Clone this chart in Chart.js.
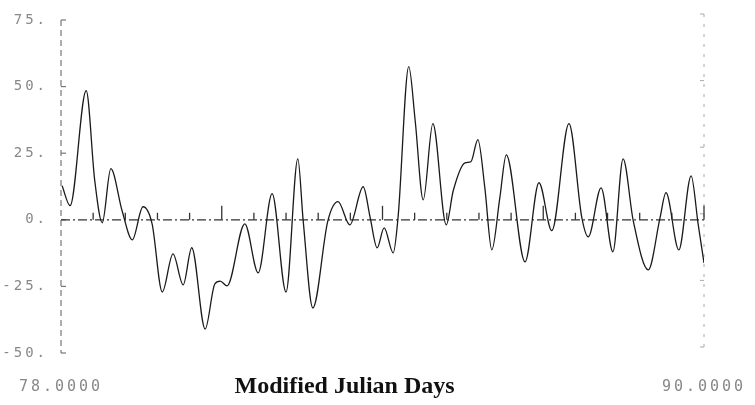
<!DOCTYPE html>
<html>
<head>
<meta charset="utf-8">
<script src="https://cdn.jsdelivr.net/npm/chart.js@4.4.1/dist/chart.umd.min.js"></script>
<style>
  html, body { margin: 0; padding: 0; background: #fff; }
  canvas { display: block; }
</style>
</head>
<body>
<canvas id="chart" width="755" height="405"></canvas>
<script>
// Time axis (Modified Julian Days) and residual values
const days = [
    78.02, 78.17, 78.47, 78.63, 78.77, 78.93, 79.14, 79.33, 79.53, 79.70,
    79.89, 80.09, 80.28, 80.44, 80.69, 80.87, 80.97, 81.10, 81.43, 81.68,
    81.94, 82.20, 82.42, 82.52, 82.70, 82.98, 83.17, 83.39, 83.64, 83.77,
    83.90, 84.03, 84.20, 84.29, 84.49, 84.61, 84.76, 84.94, 85.19, 85.32,
    85.54, 85.65, 85.78, 85.91, 86.04, 86.19, 86.31, 86.66, 86.92, 87.16,
    87.48, 87.72, 87.84, 88.08, 88.30, 88.49, 88.68, 88.96, 89.18, 89.29,
    89.53, 89.76, 89.89, 90.00
];
const values = [
    12.8, 5.3, 48.5, 14.7, -1.1, 19.2, 3.4, -7.5, 4.9, -1.5,
    -27.1, -12.8, -24.4, -10.5, -41.0, -24.1, -23.0, -24.8, -1.5, -19.9,
    9.8, -27.1, 22.9, -0.4, -33.1, -0.4, 6.8, -1.9, 12.4, 0.8,
    -10.5, -3.0, -12.4, 0.8, 57.5, 37.2, 7.5, 36.1, -1.9, 10.9,
    21.4, 21.8, 30.1, 12.0, -11.3, 8.3, 24.4, -15.8, 13.9, -4.1,
    36.1, 0.8, -6.4, 12.0, -12.0, 22.9, -0.4, -18.8, 0.8, 10.2,
    -11.3, 16.5, -1.5, -16.2
];

// Tick labels
const yTicks = [75, 50, 25, 0, -25, -50];
const xTicks = [78, 90];
// Marks along the zero line
const zeroTicks = [
    78.6, 79.2, 79.8, 80.4, 81.0, 81.6, 82.2, 82.8, 83.4, 84.0,
    84.6, 85.2, 85.8, 86.4, 87.0, 87.6, 88.2, 88.8, 89.4, 90.0
];
const xTitle = 'Modified Julian Days';

const monoFont = { family: '"DejaVu Sans Mono", monospace', size: 14 };

// Axis frames, zero line and its marks, plus the bottom title
const framePlugin = {
    id: 'frame',
    beforeDraw: (chart) => {
        chart.ctx.letterSpacing = '3px';
    },
    beforeDatasetsDraw: (chart) => {
        const { ctx, scales: { x, y } } = chart;
        const top = y.getPixelForValue(75);
        const bottom = y.getPixelForValue(-50);
        const left = x.getPixelForValue(78);
        const right = x.getPixelForValue(90);
        ctx.save();

        // left axis
        ctx.strokeStyle = '#777';
        ctx.lineWidth = 1.2;
        ctx.setLineDash([6, 4]);
        ctx.beginPath();
        ctx.moveTo(left, top);
        ctx.lineTo(left, bottom);
        ctx.stroke();
        ctx.setLineDash([]);
        yTicks.forEach(v => {
            const py = y.getPixelForValue(v);
            ctx.beginPath();
            ctx.moveTo(left, py);
            ctx.lineTo(left + 5, py);
            ctx.stroke();
        });

        // right axis (faint)
        ctx.strokeStyle = '#aaa';
        ctx.lineWidth = 1;
        ctx.setLineDash([3, 7]);
        ctx.beginPath();
        ctx.moveTo(right, top - 6);
        ctx.lineTo(right, bottom);
        ctx.stroke();
        ctx.setLineDash([]);
        yTicks.forEach(v => {
            const py = y.getPixelForValue(v) - 6;
            ctx.beginPath();
            ctx.moveTo(right, py);
            ctx.lineTo(right - 4, py);
            ctx.stroke();
        });

        // zero line
        const y0 = y.getPixelForValue(0);
        ctx.strokeStyle = '#333';
        ctx.lineWidth = 1.3;
        ctx.setLineDash([9, 3, 2, 3]);
        ctx.beginPath();
        ctx.moveTo(left, y0);
        ctx.lineTo(right, y0);
        ctx.stroke();
        ctx.setLineDash([]);
        zeroTicks.forEach(d => {
            const px = x.getPixelForValue(d);
            const h = (Math.round(d * 10) % 30 === 0) ? 14 : 7;
            ctx.beginPath();
            ctx.moveTo(px, y0);
            ctx.lineTo(px, y0 - h);
            ctx.stroke();
        });
        ctx.restore();
    },
    afterDraw: (chart) => {
        const { ctx, chartArea } = chart;
        ctx.save();
        ctx.letterSpacing = '0px';
        ctx.font = 'bold 24px "Liberation Serif", serif';
        ctx.fillStyle = '#111';
        ctx.textAlign = 'center';
        ctx.textBaseline = 'alphabetic';
        ctx.fillText(xTitle, chartArea.left + chartArea.width * 0.441, 393);
        ctx.restore();
    }
};

new Chart(document.getElementById('chart'), {
    type: 'line',
    data: {
        datasets: [{
            data: days.map((d, i) => ({ x: d, y: values[i] })),
            borderColor: '#1a1a1a',
            borderWidth: 1.3,
            pointRadius: 0,
            fill: false,
            cubicInterpolationMode: 'monotone'
        }]
    },
    options: {
        responsive: false,
        animation: false,
        layout: { padding: { top: 20, right: 51, left: 0, bottom: 0 } },
        scales: {
            x: {
                type: 'linear',
                min: 78,
                max: 90,
                grid: { display: false },
                border: { display: false },
                afterBuildTicks: (s) => { s.ticks = xTicks.map(v => ({ value: v })); },
                afterFit: (s) => { s.height = 52; },
                ticks: {
                    padding: 17,
                    maxRotation: 0,
                    color: '#888',
                    font: { family: monoFont.family, size: 15 },
                    callback: (v) => Number(v).toFixed(4)
                }
            },
            y: {
                min: -50,
                max: 75,
                grid: { display: false },
                border: { display: false },
                afterBuildTicks: (s) => { s.ticks = yTicks.map(v => ({ value: v })); },
                afterFit: (s) => { s.width = 61; },
                ticks: {
                    padding: 5,
                    color: '#888',
                    font: monoFont,
                    callback: (v) => v + '.'
                }
            }
        },
        plugins: {
            legend: { display: false },
            tooltip: { enabled: false }
        }
    },
    plugins: [framePlugin]
});
</script>
</body>
</html>
